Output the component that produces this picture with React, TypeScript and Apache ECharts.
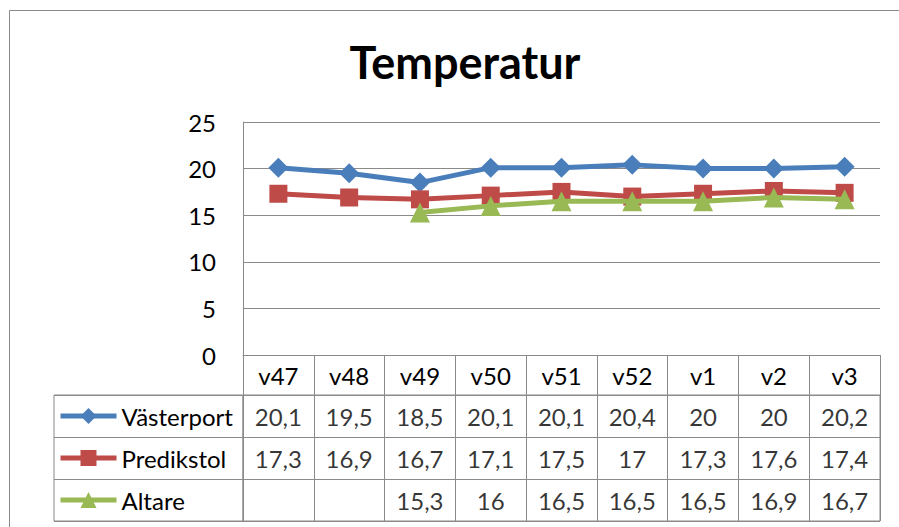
import React, { useEffect, useRef } from "react";
import * as echarts from "echarts";

const weeks = ["v47", "v48", "v49", "v50", "v51", "v52", "v1", "v2", "v3"];
const seriesNames = ["Västerport", "Predikstol", "Altare"];
const vasterport = [20.1, 19.5, 18.5, 20.1, 20.1, 20.4, 20, 20, 20.2];
const predikstol = [17.3, 16.9, 16.7, 17.1, 17.5, 17, 17.3, 17.6, 17.4];
const altare = [null, null, 15.3, 16, 16.5, 16.5, 16.5, 16.9, 16.7];
const yMin = 0;
const yMax = 25;
const yInterval = 5;

const colors = ["#4A7EBB", "#BE4B48", "#98B954"];
const symbols = ["diamond", "rect", "triangle"];
const symbolSizes = [20, 18, 20];
const FONT = "Lato";
const GRAY = "#8a8a8a";

const fmt = (v: number | null) => (v == null ? "" : String(v).replace(".", ","));

export default function App() {
  const ref = useRef<HTMLDivElement>(null);
  useEffect(() => {
    if (!ref.current) return;
    const chart = echarts.init(ref.current, undefined, { renderer: "svg" });
    const allValues = [vasterport, predikstol, altare];

    const lineSeries = allValues.map((vals, i) => ({
      name: seriesNames[i],
      type: "line",
      xAxisIndex: 0,
      yAxisIndex: 0,
      data: vals,
      connectNulls: false,
      symbol: symbols[i],
      symbolSize: symbolSizes[i],
      z: 3 + i,
      lineStyle: { color: colors[i], width: 5 },
      itemStyle: { color: colors[i], borderWidth: 0 },
    }));

    const tableSeries = allValues.map((vals, i) => ({
      name: "tabell-" + seriesNames[i],
      type: "scatter",
      xAxisIndex: 1,
      yAxisIndex: 1,
      silent: true,
      symbolSize: 0,
      itemStyle: { color: "transparent" },
      data: vals
        .map((v, j) => (v == null ? null : [weeks[j], seriesNames[i], v]))
        .filter((d) => d != null),
      label: {
        show: true,
        position: "inside",
        fontFamily: FONT,
        fontSize: 24,
        color: "#000",
        formatter: (p: any) => fmt(p.value[2]),
      },
    }));

    const rowCenters = [416, 458, 500];
    const legends = seriesNames.map((n, i) => ({
      data: [n],
      left: 58,
      top: rowCenters[i] - 12,
      padding: 0,
      itemWidth: 56,
      itemHeight: 20,
      itemGap: 5,
      selectedMode: false,
      lineStyle: { width: 5 },
      textStyle: { fontFamily: FONT, fontSize: 24, color: "#000" },
    }));

    chart.setOption({
      animation: false,
      backgroundColor: "#fff",
      title: {
        text: "Temperatur",
        left: 460,
        top: 34,
        textAlign: "center",
        textStyle: { fontFamily: FONT, fontWeight: "bold", fontSize: 45, color: "#000" },
      },
      legend: legends,
      graphic: [
        {
          type: "rect",
          shape: { x: 9.5, y: 10.5, width: 1000, height: 1000 },
          style: { fill: "none", stroke: GRAY, lineWidth: 1 },
          silent: true,
        },
      ],
      grid: [
        { left: 243, top: 122, width: 637, height: 233 },
        {
          left: 243,
          top: 395,
          width: 637,
          height: 126,
          show: true,
          borderColor: GRAY,
          borderWidth: 1,
          backgroundColor: "transparent",
        },
        {
          left: 54,
          top: 395,
          width: 189,
          height: 126,
          show: true,
          borderColor: GRAY,
          borderWidth: 1,
          backgroundColor: "transparent",
        },
      ],
      xAxis: [
        {
          gridIndex: 0,
          type: "category",
          data: weeks,
          boundaryGap: true,
          axisLine: { show: true, lineStyle: { color: GRAY, width: 1 } },
          axisTick: { show: true, interval: 0, length: 40, lineStyle: { color: GRAY, width: 1 } },
          axisLabel: {
            interval: 0,
            margin: 20,
            verticalAlign: "middle",
            fontFamily: FONT,
            fontSize: 24,
            color: "#000",
          },
          splitLine: { show: false },
        },
        {
          gridIndex: 1,
          type: "category",
          data: weeks,
          boundaryGap: true,
          axisLine: { show: false },
          axisTick: { show: false },
          axisLabel: { show: false },
          splitLine: { show: true, interval: 0, lineStyle: { color: GRAY, width: 1 } },
        },
        {
          gridIndex: 2,
          type: "value",
          show: false,
        },
      ],
      yAxis: [
        {
          gridIndex: 0,
          type: "value",
          min: yMin,
          max: yMax,
          interval: yInterval,
          axisLine: { show: true, lineStyle: { color: GRAY, width: 1 } },
          axisTick: { show: false },
          axisLabel: { margin: 27, fontFamily: FONT, fontSize: 24, color: "#000" },
          splitLine: { show: true, lineStyle: { color: GRAY, width: 1 } },
        },
        {
          gridIndex: 1,
          type: "category",
          data: seriesNames,
          inverse: true,
          axisLine: { show: false },
          axisTick: { show: false },
          axisLabel: { show: false },
          splitLine: { show: true, interval: 0, lineStyle: { color: GRAY, width: 1 } },
        },
        {
          gridIndex: 2,
          type: "category",
          data: seriesNames,
          inverse: true,
          axisLine: { show: false },
          axisTick: { show: false },
          axisLabel: { show: false },
          splitLine: { show: true, interval: 0, lineStyle: { color: GRAY, width: 1 } },
        },
      ],
      series: [...lineSeries, ...tableSeries],
    });
    return () => chart.dispose();
  }, []);
  return (
    <div
      ref={ref}
      style={{ position: "absolute", left: 0, top: 0, width: 899, height: 527 }}
    />
  );
}
